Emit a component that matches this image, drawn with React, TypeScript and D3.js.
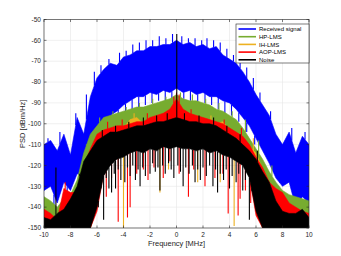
import React from "react";
import * as d3 from "d3";

// frequency grid [MHz]
const freqs = [
  -10, -9.5, -9, -8.5, -8, -7.5, -7, -6.5, -6, -5.5, -5, -4.5, -4, -3.5, -3, -2.5, -2, -1.5, -1, -0.5,
  0, 0.5, 1, 1.5, 2, 2.5, 3, 3.5, 4, 4.5, 5, 5.5, 6, 6.5, 7, 7.5, 8, 8.5, 9, 9.5, 10,
];

// upper / lower envelopes of each PSD trace [dBm/Hz]
const blueTop = [
  -110, -108, -113, -105, -115, -97, -105, -87, -78, -74, -71, -72, -68, -67, -65, -65, -63, -63, -62, -62,
  -60, -62, -61, -63, -62, -64, -63, -67, -69, -71, -75, -80, -86, -91, -96, -105, -110, -104, -114, -106, -110,
];
const blueBottom = [
  -132, -130, -138, -128, -132, -124, -125, -115, -104, -100, -96, -94, -91, -89, -87, -87, -85, -86, -84, -85,
  -83, -85, -84, -86, -85, -87, -87, -89, -90, -93, -97, -101, -107, -113, -119, -126, -130, -128, -140, -135, -138,
];
const greenTop = [
  -135, -137, -140, -136, -134, -127, -114, -105, -101, -97, -96, -95, -94, -93, -92, -92, -91, -90, -89, -88,
  -86, -88, -89, -89, -90, -91, -93, -94, -96, -98, -102, -107, -112, -117, -123, -128, -132, -134, -135, -136, -137,
];
const greenBottom = [
  -150, -150, -150, -150, -150, -150, -150, -150, -138, -120, -114, -112, -110, -108, -107, -106, -106, -106, -106, -106,
  -106, -106, -106, -106, -106, -106, -107, -108, -110, -112, -114, -120, -138, -150, -150, -150, -150, -150, -150, -150, -150,
];
const orangeTop = [
  -142, -144, -147, -133, -135, -134, -121, -113, -106, -104, -103, -102, -102, -98, -97, -100, -98, -97, -96, -94,
  -90, -94, -96, -97, -98, -99, -100, -99, -103, -105, -107, -111, -114, -122, -129, -132, -134, -139, -141, -143, -144,
];
const orangeBottom = greenBottom;
const redTop = [
  -141, -143, -146, -131, -133, -133, -120, -112, -105, -103, -102, -101, -101, -100, -99, -99, -97, -96, -95, -93,
  -88, -93, -95, -96, -97, -98, -99, -100, -102, -104, -106, -110, -116, -121, -128, -131, -133, -138, -140, -142, -143,
];
const redBottom = [
  -150, -150, -150, -150, -150, -150, -150, -150, -142, -124, -119, -116, -115, -113, -112, -113, -111, -112, -110, -111,
  -110, -111, -111, -112, -111, -113, -112, -114, -115, -117, -119, -125, -144, -150, -150, -150, -150, -150, -150, -150, -150,
];
const blackTop = [
  -145, -146, -143, -141, -136, -130, -118, -113, -108, -106, -104, -104, -103, -102, -101, -101, -100, -99, -99, -98,
  -97, -98, -99, -99, -100, -100, -101, -103, -105, -107, -110, -113, -117, -123, -128, -137, -142, -143, -143, -141, -145,
];
const blackBottom = [
  -150, -150, -150, -150, -150, -150, -150, -150, -140, -125, -120, -117, -116, -114, -113, -114, -112, -113, -111, -112,
  -111, -112, -112, -113, -112, -114, -113, -115, -116, -118, -120, -126, -142, -150, -150, -150, -150, -150, -150, -150, -150,
];

// narrow notches [freq, dBm/Hz] hanging below each trace
const blueDips: [number, number][] = [
  [-9.25, -145], [-8.25, -140], [-7.1, -125], [-6.7, -115], [-5.45, -103], [-4.95, -99], [-4.4, -97], [-3.85, -95],
  [-3.35, -93], [-2.85, -92], [-2.35, -91], [-1.85, -90], [-1.35, -89], [-0.85, -89], [-0.35, -88], [0.55, -88],
  [1.05, -89], [1.6, -90], [2.15, -90], [2.65, -91], [3.15, -93], [3.65, -95], [4.15, -96], [4.7, -99],
  [5.3, -104], [5.9, -110], [7.8, -128], [9.2, -140],
];
const greenDips: [number, number][] = [];
const orangeDips: [number, number][] = [
  [-4.0, -150], [-1.25, -133], [-0.6, -122], [1.6, -128], [3.3, -128], [4.35, -149],
];
const redDips: [number, number][] = [
  [-5.3, -135], [-4.4, -147], [-3.7, -145], [-3.5, -140], [-2.5, -122], [-2.15, -127], [-1.0, -126], [-0.5, -118],
  [0.9, -135], [2.15, -130], [3.9, -143], [4.65, -144], [4.8, -136], [5.2, -132], [-4.9, -126], [-3.0, -124],
  [-1.7, -121], [0.2, -124], [1.3, -122], [2.9, -126], [3.5, -124], [5.6, -138],
];
const blackDips: [number, number][] = [
  [-5.9, -140], [-5.7, -128], [-5.5, -146], [-5.3, -126], [-5.1, -131], [-4.9, -133], [-4.7, -124], [-4.6, -131],
  [-4.4, -122], [-4.2, -127], [-3.9, -128], [-3.7, -121], [-3.5, -125], [-3.3, -120], [-3.1, -127], [-2.9, -122],
  [-2.75, -130], [-2.55, -121], [-2.35, -125], [-2.0, -124], [-1.8, -119], [-1.6, -123], [-1.4, -121], [-1.25, -132],
  [-1.05, -120], [-0.85, -124], [-0.6, -119], [-0.4, -122], [-0.2, -126], [0.1, -120], [0.3, -123], [0.5, -130],
  [0.7, -121], [0.95, -124], [1.2, -120], [1.4, -128], [1.6, -122], [1.8, -127], [2.0, -121], [2.25, -125],
  [2.5, -120], [2.75, -130], [2.95, -122], [3.1, -133], [3.3, -124], [3.55, -127], [3.75, -122], [4.0, -131],
  [4.2, -125], [4.5, -128], [4.7, -124], [5.0, -132], [5.2, -127], [5.5, -146], [5.7, -131],
];

// narrow peaks [freq, dBm/Hz] rising above each trace
const bluePeaks: [number, number][] = [
  [-9.7, -107], [-8.8, -104], [-7.6, -95], [-6.8, -86], [-6.2, -75], [-5.7, -72], [-5.1, -69], [-4.3, -66],
  [-3.8, -65], [-3.3, -62], [-2.8, -61], [-2.3, -60], [-1.8, -60], [-1.3, -58], [-0.8, -59], [-0.3, -57],
  [0.4, -58], [0.9, -59], [1.4, -59], [1.9, -60], [2.3, -59], [2.8, -60], [3.3, -61], [3.8, -64], [4.3, -67],
  [4.8, -70], [5.3, -73], [5.8, -78], [6.3, -85], [7.1, -94], [8.7, -102], [9.7, -104],
];
const greenPeaks: [number, number][] = [
  [-6.8, -110], [-5.8, -97], [-4.8, -94], [-3.8, -92], [-2.8, -90], [-1.8, -88], [-0.8, -87], [0.3, -85],
  [1.2, -86], [2.2, -88], [3.2, -90], [4.2, -94], [5.2, -98], [6.2, -108], [7.2, -120],
];
const orangePeaks: [number, number][] = [[-3.2, -95], [2.6, -96], [5.8, -107]];
const redPeaks: [number, number][] = [
  [-0.2, -87], [0.0, -85], [0.2, -86], [-8.4, -128], [-5.2, -99], [-4.1, -98], [-2.2, -95], [1.1, -93], [3.6, -98], [4.9, -102],
];
const blackPeaks: [number, number][] = [
  [0.02, -57], [-9.1, -121], [-7.3, -124], [-5.6, -103], [-4.6, -101], [-3.6, -99], [-2.5, -97], [-1.5, -96],
  [-0.7, -95], [0.6, -95], [1.7, -96], [2.8, -97], [3.8, -101], [4.8, -105], [6.1, -113],
];

const names = ["Received signal", "HP-LMS", "IH-LMS", "AOP-LMS", "Noise"];
const colors = ["#0000ff", "#77ac30", "#edb120", "#ff0000", "#000000"];
const xTicks = [-10, -8, -6, -4, -2, 0, 2, 4, 6, 8, 10];
const yTicks = [-50, -60, -70, -80, -90, -100, -110, -120, -130, -140, -150];

const series = [
  { top: blueTop, bottom: blueBottom, dips: blueDips, peaks: bluePeaks },
  { top: greenTop, bottom: greenBottom, dips: greenDips, peaks: greenPeaks },
  { top: orangeTop, bottom: orangeBottom, dips: orangeDips, peaks: orangePeaks },
  { top: redTop, bottom: redBottom, dips: redDips, peaks: redPeaks },
  { top: blackTop, bottom: blackBottom, dips: blackDips, peaks: blackPeaks },
].map((s, i) => ({ ...s, name: names[i], color: colors[i] }));

const W = 341;
const H = 256;
const margin = { top: 19.5, right: 32, bottom: 28, left: 44 };
const axisColor = "#262626";
const font = "'Liberation Sans', Arial, sans-serif";

export default function App() {
  const x = d3.scaleLinear().domain([-10, 10]).range([margin.left, W - margin.right]);
  const y = d3.scaleLinear().domain([-150, -50]).range([H - margin.bottom, margin.top]);
  const [x0, x1] = x.range();
  const [y0, y1] = [y(-50), y(-150)];

  return (
    <svg width={W} height={H} style={{ position: "absolute", left: 0, top: 0, background: "#fff" }} fontFamily={font}>
      <defs>
        <clipPath id="plot-clip">
          <rect x={x0} y={y0} width={x1 - x0} height={y1 - y0} />
        </clipPath>
      </defs>
      <rect x={x0} y={y0} width={x1 - x0} height={y1 - y0} fill="#fff" />
      {xTicks.map((t) => (
        <line key={"gx" + t} x1={x(t)} x2={x(t)} y1={y0} y2={y1} stroke="#e6e6e6" strokeWidth={0.6} />
      ))}
      {yTicks.map((t) => (
        <line key={"gy" + t} x1={x0} x2={x1} y1={y(t)} y2={y(t)} stroke="#e6e6e6" strokeWidth={0.6} />
      ))}
      <g clipPath="url(#plot-clip)">
        {series.map((s) => {
          const area = d3
            .area<number>()
            .x((_, i) => x(freqs[i]))
            .y0((_, i) => y(s.bottom[i]))
            .y1((d) => y(d));
          const topAt = d3.scaleLinear().domain(freqs).range(s.top);
          const botAt = d3.scaleLinear().domain(freqs).range(s.bottom);
          return (
            <g key={s.name}>
              <path d={area(s.top) || ""} fill={s.color} stroke={s.color} strokeWidth={0.6} />
              {s.dips.map(([f, v], j) => (
                <line key={"d" + j} x1={x(f)} x2={x(f)} y1={y(botAt(f))} y2={y(v)} stroke={s.color} strokeWidth={1.1} />
              ))}
              {s.peaks.map(([f, v], j) => (
                <line key={"p" + j} x1={x(f)} x2={x(f)} y1={y(topAt(f))} y2={y(v)} stroke={s.color} strokeWidth={1.1} />
              ))}
            </g>
          );
        })}
      </g>
      <rect x={x0} y={y0} width={x1 - x0} height={y1 - y0} fill="none" stroke={axisColor} strokeWidth={0.6} />
      {xTicks.map((t) => (
        <g key={"tx" + t}>
          <line x1={x(t)} x2={x(t)} y1={y1} y2={y1 - 2.5} stroke={axisColor} strokeWidth={0.6} />
          <line x1={x(t)} x2={x(t)} y1={y0} y2={y0 + 2.5} stroke={axisColor} strokeWidth={0.6} />
          <text x={x(t)} y={y1 + 8.5} textAnchor="middle" fontSize={6.5} fill={axisColor}>
            {t}
          </text>
        </g>
      ))}
      {yTicks.map((t) => (
        <g key={"ty" + t}>
          <line x1={x0} x2={x0 + 2.5} y1={y(t)} y2={y(t)} stroke={axisColor} strokeWidth={0.6} />
          <line x1={x1} x2={x1 - 2.5} y1={y(t)} y2={y(t)} stroke={axisColor} strokeWidth={0.6} />
          <text x={x0 - 3} y={y(t)} dy="0.35em" textAnchor="end" fontSize={6.5} fill={axisColor}>
            {t}
          </text>
        </g>
      ))}
      <text x={(x0 + x1) / 2} y={246} textAnchor="middle" fontSize={7.5} fill={axisColor}>
        Frequency [MHz]
      </text>
      <text
        transform={`translate(24.5,${(y0 + y1) / 2}) rotate(-90)`}
        textAnchor="middle"
        fontSize={7.5}
        fill={axisColor}
      >
        PSD [dBm/Hz]
      </text>
      <g transform="translate(236,24)">
        <rect x={0} y={0} width={73} height={39} fill="#fff" stroke={axisColor} strokeWidth={0.6} />
        {series.map((s, i) => (
          <g key={"lg" + i} transform={`translate(0,${5 + i * 7.7})`}>
            <line x1={2.5} x2={20} y1={0} y2={0} stroke={s.color} strokeWidth={1.6} />
            <text x={23} y={0} dy="0.35em" fontSize={6} fill="#000">
              {s.name}
            </text>
          </g>
        ))}
      </g>
    </svg>
  );
}
